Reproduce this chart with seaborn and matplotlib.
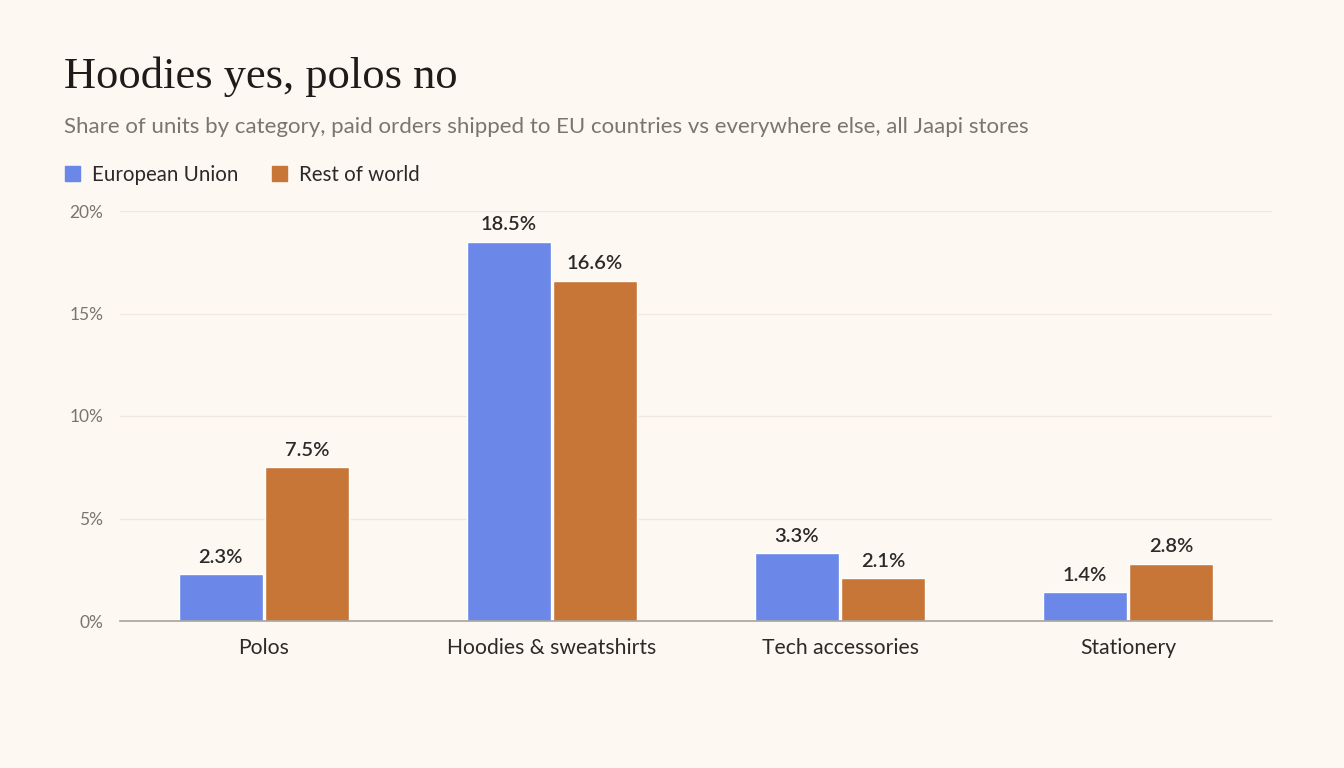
import matplotlib
matplotlib.use("Agg")
import matplotlib.pyplot as plt
import matplotlib.patches as mpatches
import pandas as pd
import seaborn as sns

categories = ["Polos", "Hoodies & sweatshirts", "Tech accessories", "Stationery"]
eu_share = [2.3, 18.5, 3.3, 1.4]
row_share = [7.5, 16.6, 2.1, 2.8]
regions = ["European Union", "Rest of world"]
y_ticks = [0, 5, 10, 15, 20]

bg = "#FDF8F2"
colors = {"European Union": "#6B87E8", "Rest of world": "#C87538"}

df = pd.DataFrame({
    "category": categories * 2,
    "region": [regions[0]] * 4 + [regions[1]] * 4,
    "share": eu_share + row_share,
})

sns.set_theme(style="white")
plt.rcParams["font.family"] = ["Lato", "DejaVu Sans"]

fig = plt.figure(figsize=(13.44, 7.68), dpi=100, facecolor=bg)
ax = fig.add_axes([120 / 1344, 1 - 621 / 768, 1152 / 1344, 410 / 768])
ax.set_facecolor(bg)

sns.barplot(data=df, x="category", y="share", hue="region", order=categories,
            hue_order=regions, palette=colors, width=0.6, gap=0.03,
            saturation=1, legend=False, ax=ax)

for cont in ax.containers:
    ax.bar_label(cont, labels=[f"{v:.1f}%" for v in cont.datavalues],
                 padding=6, fontsize=14.5, color="#2B2A28", fontweight="semibold")

ax.set_xlim(-0.5, 3.5)
ax.set_ylim(0, 20)
ax.set_yticks(y_ticks)
ax.set_yticklabels([f"{t}%" for t in y_ticks], fontsize=12.5, color="#7A756F")
ax.tick_params(axis="x", labelsize=15.2, labelcolor="#2B2A28", length=0, pad=12)
ax.tick_params(axis="y", length=0, pad=12)
ax.set_xlabel("")
ax.set_ylabel("")
ax.grid(axis="y", color="#EFE9E1", linewidth=1)
ax.set_axisbelow(True)
for s in ["top", "right", "left"]:
    ax.spines[s].set_visible(False)
ax.spines["bottom"].set_color("#A8A39C")
ax.spines["bottom"].set_linewidth(1.2)

fig.text(64 / 1344, 1 - 77 / 768, "Hoodies yes, polos no", fontsize=32,
         family=["Liberation Serif", "DejaVu Serif"], color="#1E1C1A", va="center")
fig.text(64 / 1344, 1 - 127 / 768,
         "Share of units by category, paid orders shipped to EU countries vs everywhere else, all Jaapi stores",
         fontsize=16, color="#7A756F", va="center")

handles = [mpatches.Patch(color=colors[r], label=r) for r in regions]
fig.legend(handles=handles, loc="center left", bbox_to_anchor=(46 / 1344, 1 - 175 / 768),
           ncol=2, frameon=False, fontsize=14.8, handlelength=0.75, handleheight=0.75,
           handletextpad=0.6, columnspacing=1.6, labelcolor="#2B2A28")

fig.savefig("out.png", dpi=100, facecolor=bg)
